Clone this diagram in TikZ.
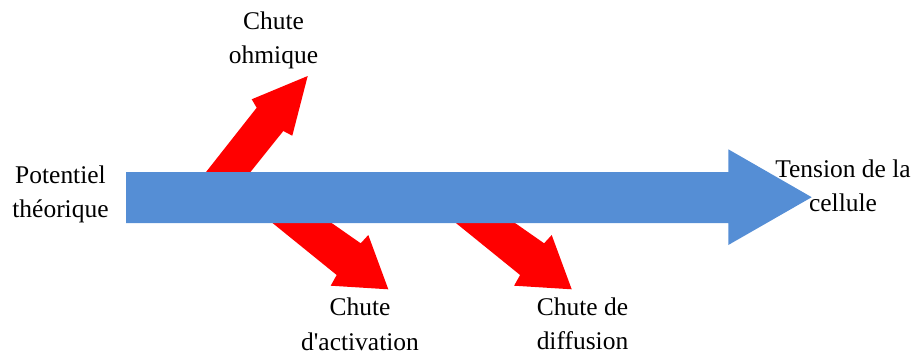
\documentclass[tikz,border=0pt]{standalone}
\usepackage{fontspec}
\setmainfont{Liberation Serif}[Ligatures=TeXOff]
\definecolor{arrowblue}{RGB}{85,142,213}
\begin{document}
\begin{tikzpicture}[x=0.75pt,y=-0.75pt,
  redarrow/.style={fill=red,draw=none},
  bluearrow/.style={fill=arrowblue,draw=none},
  lbl/.style={inner sep=0pt,anchor=base,font=\fontsize{19.1}{26}\selectfont}]
\useasboundingbox (0,0) rectangle (917,358);
% red arrows (behind the main arrow)
\fill[redarrow] (184,200) -- (256.7,107.7) -- (251.7,99.3) -- (307.7,76)
  -- (292.3,135.7) -- (283.3,131) -- (228,200) -- cycle;
\foreach \dx in {0,183.4}{
  \begin{scope}[xshift=\dx*0.75pt]
  \fill[redarrow] (298.7,200) -- (360.7,243.3) -- (368.3,235) -- (388.3,289.3)
    -- (330.7,285.7) -- (336.7,275) -- (244.1,200) -- cycle;
  \end{scope}}
% main blue arrow
\fill[bluearrow] (126,172) -- (728.3,172) -- (728.3,149.3) -- (811.7,197.2)
  -- (728.3,245) -- (728.3,223) -- (126,223) -- cycle;
% labels
\node[lbl] (pot) at (60.5,183.3) {\begin{tabular}[t]{@{}c@{}}Potentiel\\théorique\end{tabular}};
\node[lbl] (ohm) at (273.5,29.3) {\begin{tabular}[t]{@{}c@{}}Chute\\ohmique\end{tabular}};
\node[lbl] (act) at (360,315.5) {\begin{tabular}[t]{@{}c@{}}Chute\\d'activation\end{tabular}};
\node[lbl] (dif) at (582.5,315) {\begin{tabular}[t]{@{}c@{}}Chute de\\diffusion\end{tabular}};
\node[lbl] (ten) at (843,177.3) {\begin{tabular}[t]{@{}c@{}}Tension de la\\cellule\end{tabular}};
\end{tikzpicture}
\end{document}
